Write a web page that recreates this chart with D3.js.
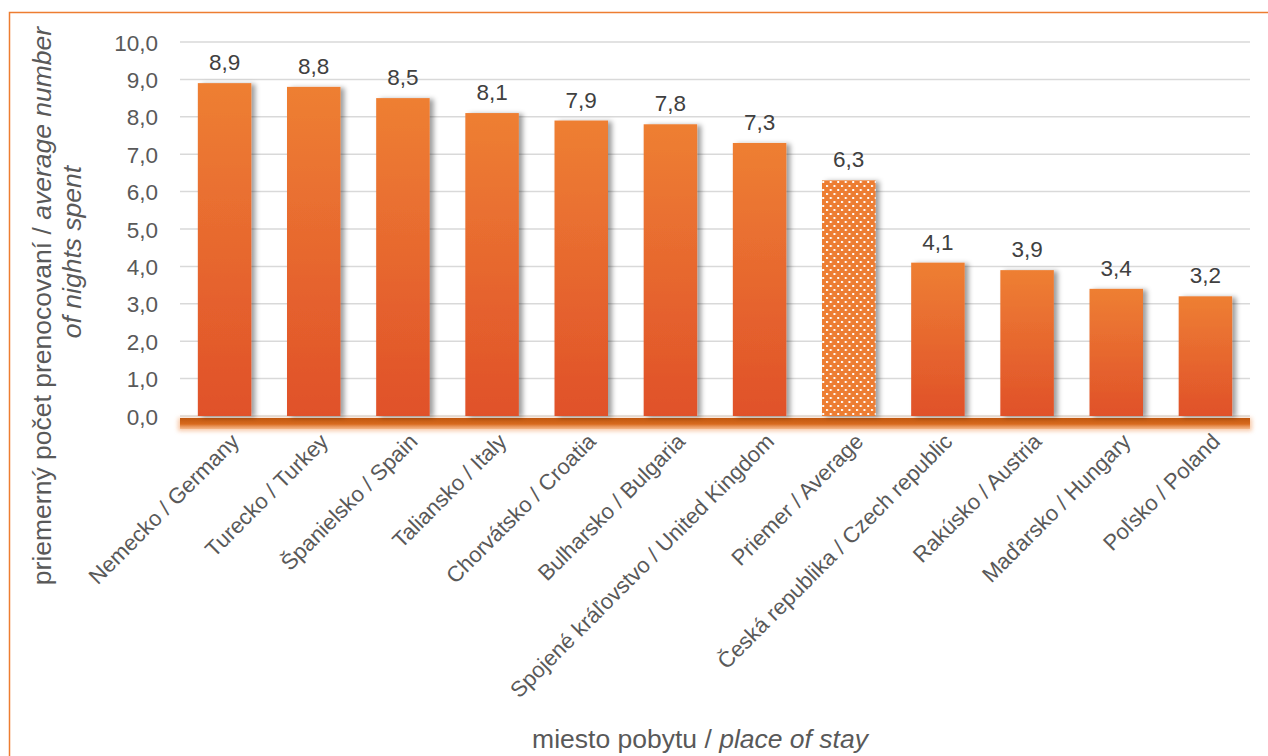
<!DOCTYPE html>
<html>
<head>
<meta charset="utf-8">
<script src="https://cdn.jsdelivr.net/npm/d3@7"></script>
<style>
  html, body { margin: 0; padding: 0; background: #fff; }
  svg { display: block; font-family: "Liberation Sans", Arial, sans-serif; }
</style>
</head>
<body>
<svg id="chart" width="1268" height="756"></svg>
<script>
const categories = [
  "Nemecko / Germany", "Turecko / Turkey", "Španielsko / Spain", "Taliansko / Italy",
  "Chorvátsko / Croatia", "Bulharsko / Bulgaria", "Spojené kráľovstvo / United Kingdom",
  "Priemer / Average", "Česká republika / Czech republic", "Rakúsko / Austria",
  "Maďarsko / Hungary", "Poľsko / Poland"
];
const values = [8.9, 8.8, 8.5, 8.1, 7.9, 7.8, 7.3, 6.3, 4.1, 3.9, 3.4, 3.2];
const averageCategory = "Priemer / Average";
const yTicks = [0, 1, 2, 3, 4, 5, 6, 7, 8, 9, 10];

const svg = d3.select("#chart");
const W = 1268, H = 756;
const plot = { left: 180, right: 1250, top: 42, bottom: 416 };
const fmt = v => d3.format(".1f")(v).replace(".", ",");
const FONT = "Liberation Sans, Arial, sans-serif";

const x = d3.scaleBand().domain(categories).range([plot.left, plot.right]).paddingInner(0.4).paddingOuter(0.2);
const y = d3.scaleLinear().domain([0, 10]).range([plot.bottom, plot.top]);

const defs = svg.append("defs");
const bg = defs.append("linearGradient").attr("id", "barGrad").attr("x1", 0).attr("y1", 0).attr("x2", 0).attr("y2", 1);
bg.append("stop").attr("offset", "0%").attr("stop-color", "#EE7F33");
bg.append("stop").attr("offset", "100%").attr("stop-color", "#E0512A");

const fg = defs.append("linearGradient").attr("id", "floorGrad").attr("x1", 0).attr("y1", 0).attr("x2", 0).attr("y2", 1);
fg.append("stop").attr("offset", "0%").attr("stop-color", "#BF570F");
fg.append("stop").attr("offset", "55%").attr("stop-color", "#D86A1E");
fg.append("stop").attr("offset", "100%").attr("stop-color", "#F2A66E").attr("stop-opacity", 0.6);

const shadow = defs.append("filter").attr("id", "barShadow").attr("x", "-20%").attr("y", "-10%").attr("width", "150%").attr("height", "120%");
shadow.append("feDropShadow").attr("dx", 4).attr("dy", 1).attr("stdDeviation", 2.5).attr("flood-color", "#000").attr("flood-opacity", 0.38);

const glow = defs.append("filter").attr("id", "glow").attr("x", "-50%").attr("y", "-50%").attr("width", "200%").attr("height", "200%");
glow.append("feGaussianBlur").attr("stdDeviation", 2.2);

const pat = defs.append("pattern").attr("id", "dots").attr("patternUnits", "userSpaceOnUse")
  .attr("width", 7.5).attr("height", 8);
pat.append("rect").attr("width", 7.5).attr("height", 8).attr("fill", "#ED7D31");
pat.append("rect").attr("x", 1).attr("y", 1).attr("width", 2).attr("height", 2).attr("fill", "#fff");
pat.append("rect").attr("x", 4.75).attr("y", 5).attr("width", 2).attr("height", 2).attr("fill", "#fff");

// border
svg.append("rect").attr("x", 9.5).attr("y", 12.5).attr("width", W + 50).attr("height", H + 50)
  .attr("fill", "none").attr("stroke", "#ED7D31").attr("stroke-width", 1.5);

// walls glow
svg.append("line").attr("x1", plot.left - 1).attr("x2", plot.left - 1).attr("y1", 50).attr("y2", plot.bottom)
  .attr("stroke", "#F4B183").attr("stroke-width", 3).attr("filter", "url(#glow)");
svg.append("line").attr("x1", plot.right + 2).attr("x2", plot.right + 2).attr("y1", 50).attr("y2", plot.bottom)
  .attr("stroke", "#F4B183").attr("stroke-width", 3).attr("filter", "url(#glow)");
svg.append("rect").attr("x", plot.left).attr("y", 46).attr("width", plot.right - plot.left).attr("height", plot.bottom - 46).attr("fill", "#fff");

// gridlines
svg.append("g").selectAll("line").data(yTicks).join("line")
  .attr("x1", plot.left).attr("x2", plot.right)
  .attr("y1", d => y(d)).attr("y2", d => y(d))
  .attr("stroke", "#D9D9D9").attr("stroke-width", 1.5);

// floor
svg.append("rect").attr("x", plot.left - 2).attr("y", plot.bottom + 2).attr("width", plot.right - plot.left + 4).attr("height", 13)
  .attr("fill", "#F4B183").attr("opacity", 0.7).attr("filter", "url(#glow)");
svg.append("rect").attr("x", plot.left).attr("y", plot.bottom + 2).attr("width", plot.right - plot.left).attr("height", 11)
  .attr("fill", "url(#floorGrad)");

// y axis labels
const yAxis = d3.axisLeft(y).tickValues(yTicks).tickFormat(fmt).tickSize(0).tickPadding(0);
const yg = svg.append("g").attr("transform", `translate(158,0)`).call(yAxis);
yg.select(".domain").remove();
yg.selectAll("text").attr("font-size", 22.5).attr("fill", "#595959").attr("font-family", FONT).attr("dy", "0.36em");

// bars
svg.append("g").selectAll("rect").data(values).join("rect")
  .attr("x", (d, i) => x(categories[i]))
  .attr("y", d => y(d))
  .attr("width", x.bandwidth())
  .attr("height", d => y(0) - y(d))
  .attr("fill", (d, i) => categories[i] === averageCategory ? "url(#dots)" : "url(#barGrad)")
  .attr("filter", "url(#barShadow)");

// data labels
svg.append("g").selectAll("text").data(values).join("text")
  .attr("x", (d, i) => x(categories[i]) + x.bandwidth() / 2)
  .attr("y", d => y(d) - 13)
  .attr("text-anchor", "middle")
  .attr("font-size", 22.5).attr("fill", "#404040")
  .text(d => fmt(d));

// category labels
const xAxis = d3.axisBottom(x).tickSize(0).tickPadding(0);
const xg = svg.append("g").attr("transform", `translate(0,${plot.bottom + 16})`).call(xAxis);
xg.select(".domain").remove();
xg.selectAll("text")
  .attr("font-size", 22).attr("fill", "#595959").attr("font-family", FONT)
  .attr("text-anchor", "end").attr("dy", "0.7em").attr("y", 0).attr("x", 0)
  .attr("transform", "translate(5,0) rotate(-45)");

// x title
const xt = svg.append("text").attr("x", 700).attr("y", 748).attr("text-anchor", "middle")
  .attr("font-size", 26.5).attr("fill", "#595959");
xt.append("tspan").text("miesto pobytu / ");
xt.append("tspan").attr("font-style", "italic").text("place of stay");

// y title
const yt1 = svg.append("text").attr("transform", "translate(51,306) rotate(-90)").attr("text-anchor", "middle")
  .attr("font-size", 26.5).attr("fill", "#595959");
yt1.append("tspan").text("priemerný počet prenocovaní / ");
yt1.append("tspan").attr("font-style", "italic").text("average number");
svg.append("text").attr("transform", "translate(81,252) rotate(-90)").attr("text-anchor", "middle")
  .attr("font-size", 26.5).attr("fill", "#595959").attr("font-style", "italic").text("of nights spent");
</script>
</body>
</html>
